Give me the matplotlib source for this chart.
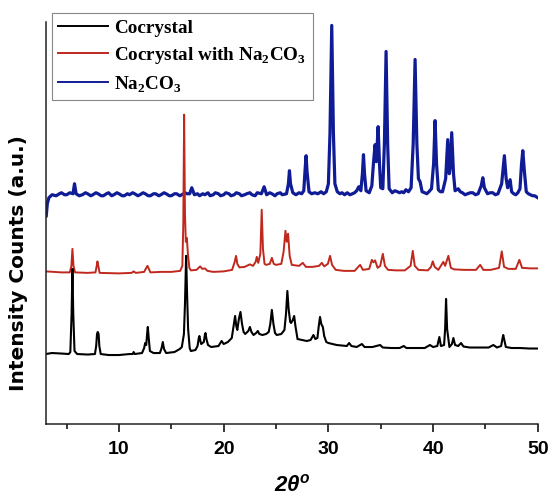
import matplotlib
matplotlib.use("Agg")
import matplotlib.pyplot as plt

plt.rcParams["mathtext.fontset"] = "custom"
plt.rcParams["mathtext.rm"] = "Liberation Serif:bold"
plt.rcParams["mathtext.bf"] = "Liberation Serif:bold"
plt.rcParams["mathtext.bfit"] = "Liberation Sans:bold:italic"
plt.rcParams["mathtext.it"] = "Liberation Sans:bold:italic"

# Powder diffraction patterns (2-theta in degrees, intensity in arbitrary units, stacked)
cocrystal_2theta = [3.0, 3.6, 4.5, 5.2, 5.35, 5.47, 5.55, 5.63, 5.75, 6.0, 7.0, 7.7, 7.82, 7.9, 7.97,
                    8.05, 8.12, 8.25, 9.0, 10.0, 11.0, 11.3, 11.4, 11.5, 12.2, 12.4, 12.5, 12.6, 12.7,
                    12.75, 12.82, 12.95, 13.3, 13.9, 14.07, 14.18, 14.3, 14.5, 15.3, 15.8, 16.0, 16.2,
                    16.3, 16.41, 16.5, 16.6, 16.75, 16.86, 17.3, 17.5, 17.62, 17.68, 17.75, 17.85, 18.1,
                    18.2, 18.26, 18.35, 18.5, 18.8, 19.5, 19.8, 20.0, 20.4, 20.77, 20.95, 21.09, 21.2,
                    21.3, 21.45, 21.6, 21.75, 21.9, 22.05, 22.35, 22.5, 22.65, 22.85, 23.1, 23.26, 23.4,
                    23.7, 24.05, 24.3, 24.45, 24.6, 24.75, 24.9, 25.07, 25.5, 25.8, 25.95, 26.08, 26.2,
                    26.35, 26.44, 26.6, 26.73, 26.85, 27.05, 27.5, 27.93, 28.3, 28.57, 28.75, 28.95,
                    29.08, 29.2, 29.32, 29.47, 29.6, 29.8, 30.0, 30.8, 31.76, 31.98, 32.2, 32.7, 33.2,
                    33.45, 34.2, 34.94, 35.2, 36.0, 36.8, 37.2, 37.45, 38.5, 39.2, 39.7, 40.0, 40.4,
                    40.6, 40.75, 41.05, 41.15, 41.24, 41.34, 41.56, 41.8, 41.94, 42.1, 42.4, 42.67,
                    42.9, 43.5, 44.5, 45.3, 45.76, 46.1, 46.5, 46.62, 46.7, 46.8, 46.95, 47.5, 48.3,
                    49.2, 50.0]
cocrystal_counts = [70, 71, 70.5, 70, 72, 110, 155, 110, 73, 70, 69.5, 70, 78, 90, 92,
                    90, 78, 70, 69, 69, 70, 70, 72, 70, 71, 76, 81, 79, 92,
                    97, 88, 73, 71, 71, 76, 82, 75, 71, 72, 75, 77, 90,
                    120, 168, 130, 95, 76, 73, 74, 78, 86, 88, 84, 80, 82,
                    89, 91, 85, 79, 77, 78, 83, 80, 82, 86, 98, 108, 98,
                    94, 105, 112, 100, 92, 90, 93, 97, 92, 89, 91, 93, 90,
                    89, 90, 92, 100, 114, 100, 91, 89, 90, 94, 110, 133, 115,
                    102, 101, 104, 108, 98, 85, 84, 83, 84, 89, 85, 86,
                    98, 107, 100, 97, 88, 82, 81, 79, 78, 81, 78, 77, 80,
                    77, 77, 79, 76.5, 76, 76, 78, 76, 76, 76, 79, 77, 78,
                    87, 78, 79, 95, 125, 95, 77, 80, 86, 79, 78, 81,
                    77.5, 76.5, 76.5, 76.5, 79, 76.5, 78, 85, 89, 84, 77, 76, 76,
                    75.5, 75.5]

mixture_2theta = [3.0, 4.5, 5.3, 5.45, 5.55, 5.65, 5.8, 7.0, 7.75, 7.87, 7.94, 8.02, 8.15, 10.0,
                  11.2, 11.4, 11.6, 12.4, 12.6, 12.72, 12.85, 13.0, 14.0, 15.0, 15.84, 16.05, 16.14,
                  16.22, 16.3, 16.38, 16.48, 16.58, 16.72, 16.86, 17.4, 17.75, 17.95, 18.2, 18.45,
                  19.0, 20.0, 20.8, 21.05, 21.18, 21.3, 21.5, 22.0, 22.5, 22.8, 23.05, 23.16, 23.3,
                  23.5, 23.63, 23.75, 23.9, 24.05, 24.4, 24.6, 24.78, 25.0, 25.5, 25.72, 25.9, 26.02,
                  26.15, 26.3, 26.5, 27.2, 27.55, 27.85, 28.5, 29.1, 29.37, 29.6, 29.95, 30.16, 30.35,
                  30.7, 31.5, 32.5, 33.03, 33.3, 33.9, 34.15, 34.3, 34.46, 34.7, 34.95, 35.2, 35.4,
                  35.7, 36.5, 37.3, 37.85, 38.06, 38.25, 38.6, 39.5, 39.8, 39.97, 40.15, 40.5, 40.98,
                  41.15, 41.46, 41.7, 42.0, 43.0, 44.1, 44.5, 44.8, 45.5, 46.3, 46.56, 46.78, 47.2,
                  47.9, 48.24, 48.5, 49.3, 50.0]
mixture_counts = [152.5, 151.5, 151.5, 158, 175, 158, 151.5, 151, 151.5, 158, 162.5, 158, 151, 150.5,
                  151, 152.5, 151, 152, 156, 158, 155, 151.5, 152, 152, 153, 158, 200,
                  309, 210, 182, 186, 170, 156, 153.5, 154, 157.5, 155, 155.5, 153,
                  152, 152.5, 154, 162, 168, 160, 156.5, 157, 159.5, 158, 162, 167, 161,
                  170, 214, 175, 160, 159, 160, 166, 160, 159, 160, 172, 193, 182,
                  190, 168, 159, 158, 161, 157, 157, 158, 161, 157.5, 160, 168, 159,
                  154, 153, 153, 159, 154, 155, 164, 161.5, 163.5, 156, 158, 170, 158,
                  154, 153.5, 153.5, 158, 173, 158, 154, 153.5, 157, 162.5, 157, 154, 162,
                  158, 168, 156, 154.5, 154, 154, 159, 154, 154, 156, 172.5, 157, 155,
                  155, 164, 156, 155.5, 155.5]

carbonate_2theta = [3.05, 3.15, 3.3, 3.6, 4.0, 4.3, 4.5, 4.8, 5.0, 5.3, 5.6, 5.75, 5.9, 6.2, 6.5,
                    6.8, 7.0, 7.3, 7.5, 7.8, 8.0, 8.3, 8.5, 8.8, 9.0, 9.3, 9.5, 9.8, 10.0, 10.3,
                    10.5, 10.8, 11.0, 11.3, 11.5, 11.8, 12.0, 12.3, 12.5, 12.8, 13.0, 13.3, 13.5,
                    13.8, 14.0, 14.3, 14.5, 14.8, 15.0, 15.3, 15.5, 15.8, 16.0, 16.3, 16.5, 16.75,
                    16.95, 17.2, 17.5, 17.7, 18.0, 18.2, 18.5, 18.7, 19.0, 19.2, 19.5, 19.7, 20.0,
                    20.2, 20.5, 20.7, 21.0, 21.2, 21.5, 21.7, 22.0, 22.2, 22.5, 22.7, 23.0, 23.2,
                    23.6, 23.86, 24.1, 24.4, 24.6, 24.9, 25.1, 25.4, 25.6, 26.0, 26.18, 26.28, 26.38,
                    26.6, 26.9, 27.2, 27.45, 27.65, 27.78, 27.87, 27.96, 28.15, 28.4, 28.7, 29.0,
                    29.3, 29.55, 29.8, 30.0, 30.15, 30.32, 30.48, 30.62, 30.85, 31.1, 31.3, 31.55,
                    31.8, 32.05, 32.3, 32.5, 32.7, 32.9, 33.1, 33.25, 33.35, 33.45, 33.6, 33.9,
                    34.15, 34.3, 34.46, 34.58, 34.75, 34.88, 35.0, 35.2, 35.35, 35.51, 35.66, 35.8,
                    36.1, 36.35, 36.6, 36.8, 37.0, 37.2, 37.4, 37.65, 37.9, 38.1, 38.28, 38.45,
                    38.6, 38.76, 38.95, 39.2, 39.4, 39.6, 39.85, 40.05, 40.19, 40.33, 40.5, 40.7,
                    40.9, 41.2, 41.4, 41.55, 41.62, 41.78, 41.95, 42.1, 42.4, 42.6, 42.8, 43.05,
                    43.3, 43.55, 43.8, 44.05, 44.3, 44.6, 44.75, 44.9, 45.2, 45.45, 45.7, 45.95,
                    46.2, 46.55, 46.81, 46.98, 47.12, 47.36, 47.5, 47.7, 47.9, 48.1, 48.3, 48.45,
                    48.57, 48.7, 48.9, 49.1, 49.3, 49.5, 49.7, 49.85, 50.0]
carbonate_counts = [208, 220, 226, 229, 228, 230, 231, 229, 229, 231, 230, 240, 230, 228, 229,
                    231, 230, 228, 229, 231, 230, 228, 228, 230, 231, 228, 229, 231, 230, 228,
                    228, 230, 229, 231, 230, 228, 229, 231, 230, 228, 228, 230, 230, 228, 229,
                    231, 230, 228, 228, 230, 230, 228, 229, 231, 230, 230,
                    236, 229, 230, 228, 230, 229, 231, 228, 229, 231, 230, 228, 229,
                    231, 230, 228, 229, 231, 230, 228, 229, 230, 231, 229, 228, 231,
                    230, 237, 229, 231, 230, 228, 230, 231, 229, 230, 240, 253, 240,
                    231, 229, 231, 230, 233, 255, 268, 252, 232, 230, 231, 230,
                    232, 230, 232, 240, 290, 398, 290, 240, 232, 230, 231, 229,
                    231, 229, 230, 231, 233, 237, 233, 250, 269, 250, 233, 231,
                    238, 260, 279, 262, 297, 260, 236, 235, 280, 372, 280, 235,
                    231, 233, 232, 231, 232, 231, 234, 232, 236, 280, 364, 280,
                    245, 242, 232, 231, 230, 232, 235, 260, 303, 260, 234, 232,
                    232, 245, 284, 250, 255, 291, 250, 233, 235, 232, 231, 229,
                    230, 231, 231, 229, 230, 238, 246, 236, 230, 231, 231, 229,
                    230, 240, 268, 245, 236, 244, 232, 230, 229, 231, 235, 260,
                    273, 255, 232, 230, 229, 228, 228, 227, 226]

series_labels = ["Cocrystal", r"Cocrystal with Na$_\mathrm{2}$CO$_\mathrm{3}$", r"Na$_\mathrm{2}$CO$_\mathrm{3}$"]
series_colors = ["#000000", "#c0281e", "#101c96"]
x_ticks = [10, 20, 30, 40, 50]
x_minor_ticks = [5, 15, 25, 35, 45]

fig = plt.figure(figsize=(5.51, 4.99), dpi=100)
ax = fig.add_axes([0.083, 0.150, 0.893, 0.805])

h_blue, = ax.plot(carbonate_2theta, carbonate_counts, color=series_colors[2], lw=2.3,
                  solid_joinstyle="round")
h_red, = ax.plot(mixture_2theta, mixture_counts, color=series_colors[1], lw=1.4,
                 solid_joinstyle="round")
h_black, = ax.plot(cocrystal_2theta, cocrystal_counts, color=series_colors[0], lw=1.5,
                   solid_joinstyle="round")

ax.set_xlim(3, 50)
ax.set_ylim(0, 401)
ax.set_xticks(x_ticks)
ax.set_xticks(x_minor_ticks, minor=True)
ax.set_yticks([])
for side in ("top", "right"):
    ax.spines[side].set_visible(False)
for side in ("left", "bottom"):
    ax.spines[side].set_linewidth(1.1)
    ax.spines[side].set_color("#222222")
ax.tick_params(axis="x", which="major", direction="out", length=6, width=1.1, pad=6)
ax.tick_params(axis="x", which="minor", direction="out", length=3.5, width=1.1)
for lab in ax.get_xticklabels():
    lab.set_fontfamily("Liberation Sans")
    lab.set_fontweight("bold")
    lab.set_fontsize(14)

ax.set_xlabel(r"$\mathbfit{2\theta}^{\mathbfit{o}}$", fontsize=16)
ax.xaxis.set_label_coords(0.50, -0.122)
ax.set_ylabel("Intensity Counts (a.u.)", family="DejaVu Sans", fontweight="bold",
              fontsize=14.5)
ax.yaxis.set_label_coords(-0.036, 0.40)

leg = ax.legend([h_black, h_red, h_blue], series_labels, loc="upper left",
                bbox_to_anchor=(0.094, 0.974), bbox_transform=fig.transFigure,
                borderaxespad=0, frameon=True, fancybox=False, framealpha=1,
                edgecolor="#888888", handlelength=2.6, handletextpad=0.35,
                labelspacing=0.42, borderpad=0.32,
                prop={"family": "Liberation Serif", "weight": "bold", "size": 13.8})
leg.get_frame().set_linewidth(0.8)
for line in leg.get_lines():
    line.set_linewidth(1.4)

fig.savefig("out.png", dpi=100)
